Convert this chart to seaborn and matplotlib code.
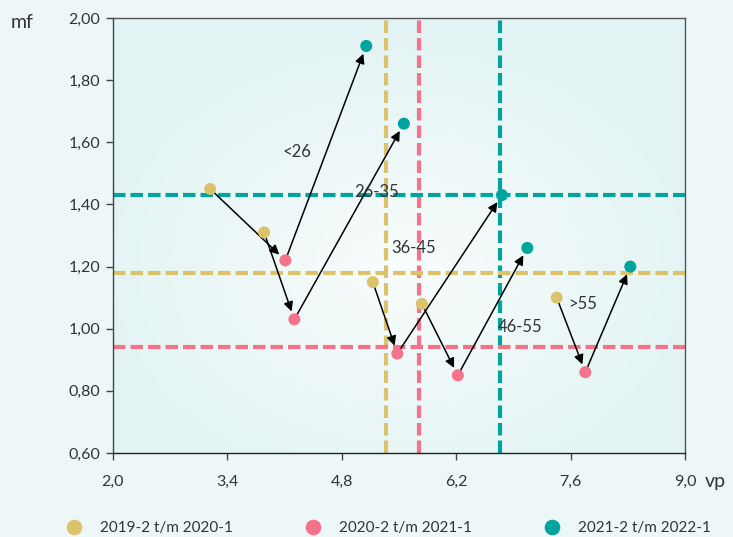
import numpy as np
import pandas as pd
import matplotlib
matplotlib.use("Agg")
import matplotlib.pyplot as plt
import seaborn as sns

# data
groups = ["<26", "26-35", "36-45", "46-55", ">55"]
periods = ["2019-2 t/m 2020-1", "2020-2 t/m 2021-1", "2021-2 t/m 2022-1"]
vp_2019 = [3.19, 3.85, 5.18, 5.78, 7.43]
mf_2019 = [1.45, 1.31, 1.15, 1.08, 1.10]
vp_2020 = [4.11, 4.22, 5.48, 6.22, 7.78]
mf_2020 = [1.22, 1.03, 0.92, 0.85, 0.86]
vp_2021 = [5.10, 5.56, 6.76, 7.07, 8.33]
mf_2021 = [1.91, 1.66, 1.43, 1.26, 1.20]
avg_vp = [5.34, 5.75, 6.74]
avg_mf = [1.18, 0.94, 1.43]
x_ticks = [2.0, 3.4, 4.8, 6.2, 7.6, 9.0]
y_ticks = [0.60, 0.80, 1.00, 1.20, 1.40, 1.60, 1.80, 2.00]

# label placement (data coords)
label_x = [4.25, 5.22, 5.68, 6.98, 7.74]
label_y = [1.57, 1.44, 1.26, 1.005, 1.08]

colors = ["#DCC36B", "#F5738A", "#00A49F"]

df = pd.DataFrame({
    "vp": vp_2019 + vp_2020 + vp_2021,
    "mf": mf_2019 + mf_2020 + mf_2021,
    "periode": [periods[0]] * 5 + [periods[1]] * 5 + [periods[2]] * 5,
})

sns.set_style("white")
plt.rcParams["font.family"] = ["Lato", "DejaVu Sans"]

fig = plt.figure(figsize=(7.33, 5.37), dpi=100, facecolor="#EEF7F8")
ax = fig.add_axes([0.154, 0.1564, 0.7806, 0.8101])

# soft radial background
gx, gy = np.meshgrid(np.linspace(-1, 1, 300), np.linspace(-1, 1, 300))
r = np.sqrt(((gx - 0.0) / 1.1) ** 2 + ((gy + 0.15) / 1.1) ** 2)
r = np.clip(r, 0, 1)
c0 = np.array([0.975, 0.99, 0.99])
c1 = np.array([0.89, 0.955, 0.955])
img = c0[None, None, :] * (1 - r[..., None]) + c1[None, None, :] * r[..., None]
ax.imshow(img, extent=[2.0, 9.0, 0.6, 2.0], aspect="auto", zorder=0, origin="lower")

for v, c in zip(avg_vp, colors):
    ax.axvline(v, color=c, lw=3, ls=(0, (3, 1.2)), zorder=1)
for m, c in zip(avg_mf, colors):
    ax.axhline(m, color=c, lw=3, ls=(0, (3, 1.2)), zorder=1)

arrow_kw = dict(arrowstyle="-|>", color="black", lw=1.1, mutation_scale=14,
                shrinkA=3, shrinkB=6)
for i in range(5):
    ax.annotate("", xy=(vp_2020[i], mf_2020[i]), xytext=(vp_2019[i], mf_2019[i]),
                arrowprops=arrow_kw, zorder=2)
    ax.annotate("", xy=(vp_2021[i], mf_2021[i]), xytext=(vp_2020[i], mf_2020[i]),
                arrowprops=arrow_kw, zorder=2)

sns.scatterplot(data=df, x="vp", y="mf", hue="periode", palette=colors,
                s=75, edgecolor="none", ax=ax, zorder=3)

for g, lx, ly in zip(groups, label_x, label_y):
    ax.text(lx, ly, g, ha="center", va="center", fontsize=12, color="#333333", zorder=4)

ax.set_xlim(2.0, 9.0)
ax.set_ylim(0.6, 2.0)
ax.set_xticks(x_ticks)
ax.set_yticks(y_ticks)
ax.set_xticklabels([f"{t:.1f}".replace(".", ",") for t in x_ticks])
ax.set_yticklabels([f"{t:.2f}".replace(".", ",") for t in y_ticks])
ax.tick_params(axis="both", length=5, width=1, color="#444444", labelsize=11.5,
               labelcolor="#333333", direction="out", bottom=True, left=True)
ax.tick_params(axis="x", pad=11)
ax.tick_params(axis="y", pad=4)
for s in ax.spines.values():
    s.set_color("#555555")
    s.set_linewidth(1)
ax.spines["bottom"].set_color("#222222")
ax.spines["left"].set_color("#444444")
ax.set_xlabel("")
ax.set_ylabel("")
fig.text(0.014, 0.958, "mf", fontsize=14, color="#333333", va="center")
fig.text(0.962, 0.104, "vp", fontsize=14, color="#333333", va="center")

handles, labels = ax.get_legend_handles_labels()
ax.legend(handles, labels, loc="center", ncol=3, frameon=False, fontsize=11,
          markerscale=1.3, handlelength=1.0, columnspacing=4.75, handletextpad=1.2,
          labelcolor="#333333")
leg = ax.get_legend()
leg.set_bbox_to_anchor((0.53, 0.017), transform=fig.transFigure)

fig.savefig("out.png", dpi=100, facecolor=fig.get_facecolor())
